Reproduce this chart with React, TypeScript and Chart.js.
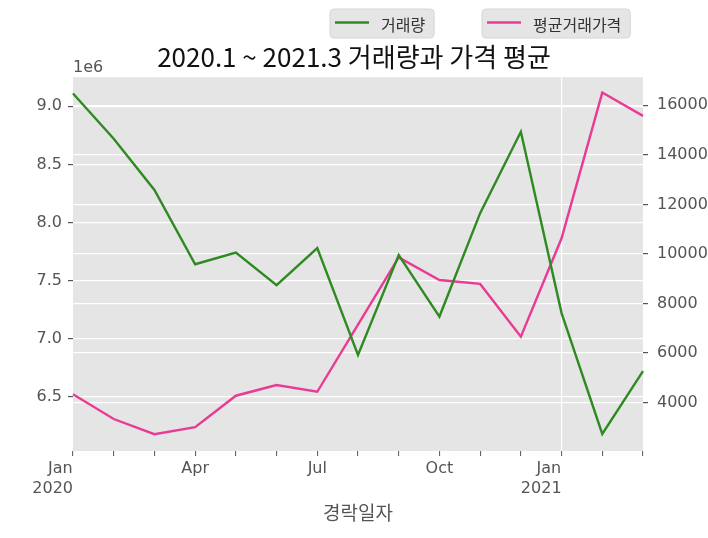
import React, { useEffect, useRef } from 'react';
import Chart from 'chart.js/auto';

// monthly data, 2020.1 ~ 2021.3
const months = [
    '2020-01', '2020-02', '2020-03', '2020-04', '2020-05', '2020-06', '2020-07', '2020-08',
    '2020-09', '2020-10', '2020-11', '2020-12', '2021-01', '2021-02', '2021-03',
];
const volume = [
    9110000, 8720000, 8280000, 7640000, 7740000, 7460000, 7780000, 6860000,
    7720000, 7190000, 8080000, 8780000, 7220000, 6180000, 6720000,
];
const avgPrice = [
    4340, 3340, 2730, 3010, 4280, 4710, 4440, 7150,
    9860, 8950, 8790, 6660, 10630, 16510, 15570,
];
const xTickLabels = ['Jan|2020', '', '', 'Apr', '', '', 'Jul', '', '', 'Oct', '', '', 'Jan|2021', '', ''];
const volumeTicks = [6500000, 7000000, 7500000, 8000000, 8500000, 9000000];
const priceTicks = [4000, 6000, 8000, 10000, 12000, 14000, 16000];

const volumeLabel = '거래량';
const priceLabel = '평균거래가격';
const titleText = '2020.1 ~ 2021.3 거래량과 가격 평균';
const xTitle = '경락일자';

const tickFont = { family: 'DejaVu Sans, "Noto Sans CJK KR", sans-serif', size: 16 };
const cjkFont = '"Noto Sans CJK KR", "DejaVu Sans", sans-serif';
const gray = '#555555';

const plotBackground = {
    id: 'plotBackground',
    beforeDraw(chart: any) {
        const { ctx, chartArea } = chart;
        ctx.save();
        ctx.fillStyle = '#e5e5e5';
        ctx.fillRect(chartArea.left, chartArea.top, chartArea.right - chartArea.left, chartArea.bottom - chartArea.top);
        ctx.restore();
    },
};

const extras = {
    id: 'extras',
    afterDraw(chart: any) {
        const { ctx, chartArea } = chart;
        ctx.save();
        // offset label of the left axis
        ctx.fillStyle = gray;
        ctx.font = `16px ${tickFont.family}`;
        ctx.textAlign = 'left';
        ctx.textBaseline = 'alphabetic';
        ctx.fillText('1e6', chartArea.left, 72);

        // legend boxes
        ctx.font = `16px ${cjkFont}`;
        ctx.textBaseline = 'middle';
        const starts = [330, 482];
        chart.data.datasets.forEach((ds: any, i: number) => {
            const x = starts[i];
            const y = 9;
            const h = 29;
            const w = 52 + ctx.measureText(ds.label).width + 8;
            ctx.beginPath();
            ctx.roundRect(x, y, w, h, 4);
            ctx.fillStyle = '#e5e5e5';
            ctx.fill();
            ctx.strokeStyle = '#d6d6d6';
            ctx.lineWidth = 1;
            ctx.stroke();
            ctx.beginPath();
            ctx.moveTo(x + 5, y + h / 2 - 1);
            ctx.lineTo(x + 39, y + h / 2 - 1);
            ctx.strokeStyle = ds.borderColor;
            ctx.lineWidth = 2.4;
            ctx.stroke();
            ctx.fillStyle = '#333333';
            ctx.fillText(ds.label, x + 51, y + h / 2 + 1);
        });
        ctx.restore();
    },
};

const App: React.FC = () => {
    const chartRef = useRef<HTMLCanvasElement>(null);

    useEffect(() => {
        if (!chartRef.current) return;
        const chartInstance = new Chart(chartRef.current, {
            type: 'line',
            data: {
                labels: months,
                datasets: [
                    {
                        label: volumeLabel,
                        data: volume,
                        borderColor: '#2f8a22',
                        borderWidth: 2.4,
                        pointRadius: 0,
                        yAxisID: 'y',
                    },
                    {
                        label: priceLabel,
                        data: avgPrice,
                        borderColor: '#ea3b94',
                        borderWidth: 2.4,
                        pointRadius: 0,
                        yAxisID: 'y1',
                    },
                ],
            },
            options: {
                animation: false,
                responsive: true,
                maintainAspectRatio: false,
                layout: { padding: 0 },
                plugins: {
                    legend: { display: false },
                    tooltip: { enabled: false },
                    title: {
                        display: true,
                        text: titleText,
                        color: '#111111',
                        font: { family: cjkFont, size: 26, weight: 'normal', lineHeight: 1.2 },
                        padding: { top: 42, bottom: 4 },
                    },
                },
                scales: {
                    x: {
                        type: 'category',
                        offset: false,
                        afterFit: (scale: any) => { scale.height = 87; },
                        grid: {
                            color: (c: any) => (c.index === 12 ? '#ffffff' : 'rgba(0,0,0,0)'),
                            lineWidth: 1.2,
                            tickColor: gray,
                            tickLength: 5,
                            tickWidth: 1,
                        },
                        border: { display: false },
                        ticks: {
                            autoSkip: false,
                            maxRotation: 0,
                            padding: 3,
                            color: gray,
                            font: { ...tickFont, lineHeight: 1.25 },
                            callback: (_v: any, i: number) => {
                                const t = xTickLabels[i];
                                if (t.includes('|')) {
                                    const [m, y] = t.split('|');
                                    return [m + ' '.repeat(5), y + ' '.repeat(8)];
                                }
                                return t;
                            },
                        },
                        title: {
                            display: true,
                            text: xTitle,
                            color: gray,
                            font: { family: cjkFont, size: 19, lineHeight: 1.2 },
                            padding: { top: 4, bottom: 14 },
                        },
                    },
                    y: {
                        position: 'left',
                        min: 6033000,
                        max: 9250000,
                        afterFit: (scale: any) => { scale.width = 73; },
                        afterBuildTicks: (scale: any) => {
                            scale.ticks = volumeTicks.map((v) => ({ value: v }));
                        },
                        grid: { color: '#ffffff', lineWidth: 1.2, tickColor: gray, tickLength: 5 },
                        border: { display: false },
                        ticks: {
                            color: gray,
                            font: tickFont,
                            padding: 6,
                            callback: (v: any) => (Number(v) / 1e6).toFixed(1),
                        },
                    },
                    y1: {
                        position: 'right',
                        min: 2050,
                        max: 17130,
                        afterFit: (scale: any) => { scale.width = 65; },
                        afterBuildTicks: (scale: any) => {
                            scale.ticks = priceTicks.map((v) => ({ value: v }));
                        },
                        grid: { color: '#ffffff', lineWidth: 1.2, tickColor: gray, tickLength: 5 },
                        border: { display: false },
                        ticks: {
                            color: gray,
                            font: tickFont,
                            padding: 9,
                            callback: (v: any) => String(v),
                        },
                    },
                },
            },
            plugins: [plotBackground, extras],
        } as any);

        return () => {
            chartInstance.destroy();
        };
    }, []);

    return (
        <div style={{ position: 'absolute', left: 0, top: 0, width: 708, height: 538, background: '#ffffff' }}>
            <canvas ref={chartRef} />
        </div>
    );
};

export default App;
